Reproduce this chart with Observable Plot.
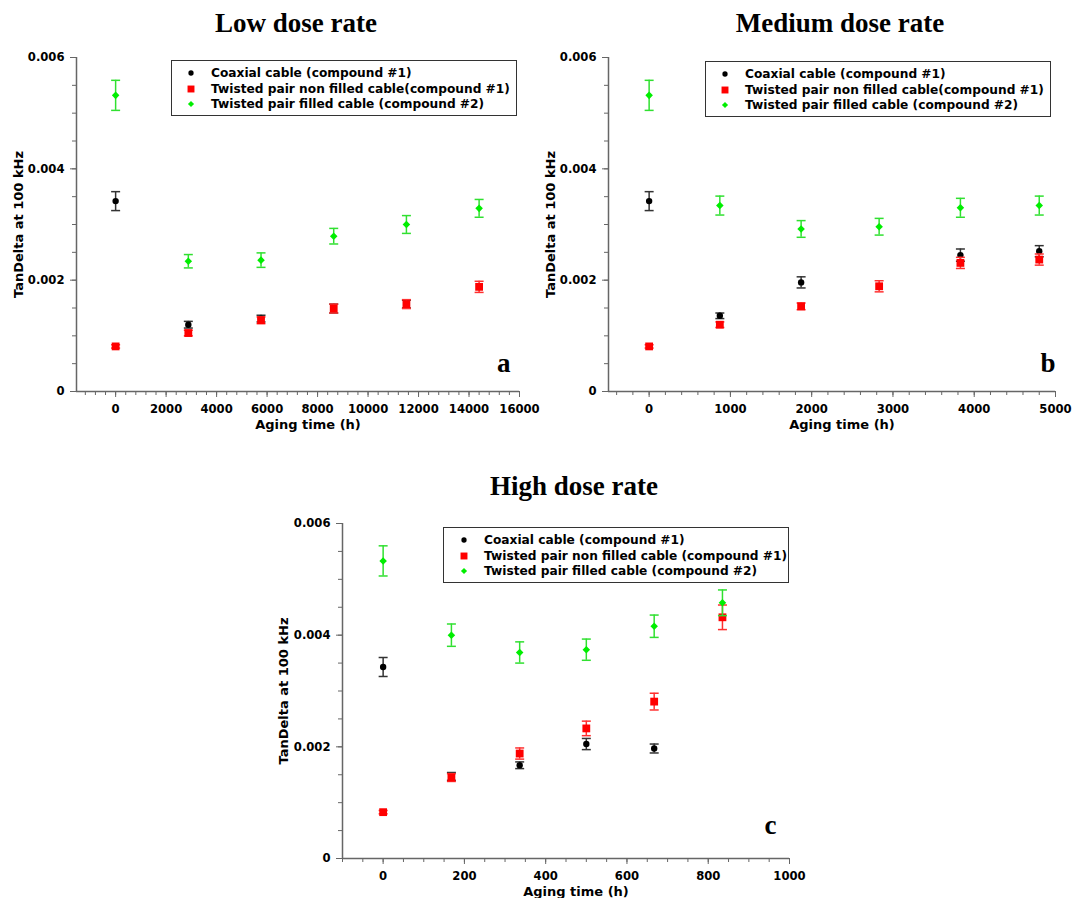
<!DOCTYPE html>
<html>
<head>
<meta charset="utf-8">
<script src="https://cdn.jsdelivr.net/npm/d3@7"></script>
<script src="https://cdn.jsdelivr.net/npm/@observablehq/plot@0.6"></script>
<style>
  html, body { margin: 0; padding: 0; background: #fff; }
  #root { position: relative; width: 1072px; height: 898px; overflow: hidden; background: #fff; }
  .panel { position: absolute; }
  .title { position: absolute; font-family: "Liberation Serif", "Times New Roman", serif; font-weight: bold; font-size: 27px; white-space: nowrap; transform: translateX(-50%); line-height: 1; }
  .legend { position: absolute; border: 1.5px solid #333; background: #fff; box-sizing: border-box; font-family: "DejaVu Sans", Verdana, sans-serif; font-weight: bold; font-size: 12.2px; color: #000; }
  .legend .row { position: absolute; left: 0; height: 14px; line-height: 14px; white-space: nowrap; }
  .legend svg { position: absolute; top: 0; }
  .legend span { position: absolute; top: 0; }
</style>
</head>
<body>
<div id="root"></div>
<script>
// ---------- data ----------
const seriesNames = ["Coaxial cable (compound #1)", "Twisted pair non filled cable(compound #1)", "Twisted pair filled cable (compound #2)"];
const seriesNamesC = ["Coaxial cable (compound #1)", "Twisted pair non filled cable (compound #1)", "Twisted pair filled cable (compound #2)"];
const panelTitles = ["Low dose rate", "Medium dose rate", "High dose rate"];
const panelLetters = ["a", "b", "c"];
const xLabel = "Aging time (h)";
const yLabel = "TanDelta at 100 kHz";
const yTicks = [0, 0.002, 0.004, 0.006];

// Low dose rate
const lowTime = [0, 2880, 5760, 8640, 11520, 14400];
const lowCoax = [0.00342, 0.00120, 0.00131, 0.00149, 0.00157, null];
const lowCoaxErr = [0.00017, 0.00006, 0.00006, 0.00008, 0.00007, null];
const lowNonFilled = [0.00081, 0.00105, 0.00128, 0.00149, 0.00157, 0.00188];
const lowNonFilledErr = [0.00003, 0.00005, 0.00006, 0.00008, 0.00008, 0.00010];
const lowFilled = [0.00532, 0.00234, 0.00236, 0.00279, 0.00300, 0.00329];
const lowFilledErr = [0.00027, 0.00012, 0.00013, 0.00014, 0.00016, 0.00016];
const lowXTicks = [0, 2000, 4000, 6000, 8000, 10000, 12000, 14000, 16000];

// Medium dose rate
const medTime = [0, 870, 1870, 2830, 3830, 4800];
const medCoax = [0.00342, 0.00136, 0.00196, null, 0.00245, 0.00252];
const medCoaxErr = [0.00017, 0.00005, 0.00010, null, 0.00011, 0.00010];
const medNonFilled = [0.00081, 0.00120, 0.00153, 0.00189, 0.00231, 0.00237];
const medNonFilledErr = [0.00003, 0.00005, 0.00006, 0.00010, 0.00010, 0.00010];
const medFilled = [0.00532, 0.00334, 0.00292, 0.00296, 0.00330, 0.00334];
const medFilledErr = [0.00027, 0.00017, 0.00015, 0.00015, 0.00017, 0.00017];
const medXTicks = [0, 1000, 2000, 3000, 4000, 5000];

// High dose rate
const highTime = [0, 168, 336, 500, 667, 835];
const highCoax = [0.00343, 0.00147, 0.00167, 0.00205, 0.00197, null];
const highCoaxErr = [0.00017, 0.00007, 0.00006, 0.00010, 0.00008, null];
const highNonFilled = [0.00083, 0.00145, 0.00188, 0.00233, 0.00281, 0.00432];
const highNonFilledErr = [0.00003, 0.00007, 0.00010, 0.00013, 0.00015, 0.00022];
const highFilled = [0.00533, 0.00400, 0.00369, 0.00374, 0.00416, 0.00458];
const highFilledErr = [0.00027, 0.00020, 0.00019, 0.00019, 0.00020, 0.00023];
const highXTicks = [0, 200, 400, 600, 800, 1000];

// ---------- styling ----------
const markerColors = ["#000000", "#ff0000", "#00ee00"];
const barColors = ["#333333", "#ff3030", "#30e030"];
const symbols = ["circle", "square", "diamond2"];
const radii = [3.2, 4.4, 3.4];
const axisColor = "#666";
const sans = "DejaVu Sans, Verdana, sans-serif";
const serif = "Liberation Serif, Times New Roman, serif";

const capSymbol = { draw(ctx) { ctx.moveTo(-4.5, 0); ctx.lineTo(4.5, 0); } };

function buildRows(time, lists) {
  const rows = [];
  lists.forEach(([vals, errs], s) => {
    time.forEach((t, i) => {
      if (vals[i] == null) return;
      rows.push({ t, v: vals[i], e: errs[i], s });
    });
  });
  return rows;
}

function makePanel(cfg) {
  const { rows, xDomain, xTicks, minorStep, width, height, m, letter, letterDx, letterDy } = cfg;
  const minor = d3.range(Math.ceil(xDomain[0] / minorStep) * minorStep, xDomain[1] + 1, minorStep);
  const yMinor = d3.range(0, 0.00601, 0.0005);
  const marks = [
    Plot.ruleY([0], { stroke: axisColor, strokeWidth: 1.5 }),
    Plot.ruleX([xDomain[0]], { stroke: axisColor, strokeWidth: 1.5 }),
    Plot.axisX({ ticks: minor, tickSize: 4, tickFormat: () => "", color: axisColor, label: null }),
    Plot.axisX({ ticks: xTicks, tickSize: 6, tickFormat: () => "", color: axisColor, label: null }),
    Plot.axisX({ ticks: xTicks, tickSize: 0, tickPadding: 13, color: "#000", label: null, fontSize: 11.6, fontWeight: "bold",
      tickFormat: d => String(d) }),
    Plot.axisY({ ticks: yMinor, tickSize: 4, tickFormat: () => "", color: axisColor, label: null }),
    Plot.axisY({ ticks: yTicks, tickSize: 6, tickFormat: () => "", color: axisColor, label: null }),
    Plot.axisY({ ticks: yTicks, tickSize: 0, tickPadding: 12, color: "#000", label: null, fontSize: 11.6, fontWeight: "bold",
      tickFormat: d => d === 0 ? "0" : d3.format(".3f")(d) }),
    Plot.text([yLabel], { frameAnchor: "left", textAnchor: "middle", dx: -cfg.yLabelDx, rotate: -90, fontSize: 13, fontWeight: "bold", fill: "#000" }),
    Plot.text([xLabel], { frameAnchor: "bottom", textAnchor: "middle", dy: 33, dx: 10, lineAnchor: "middle", fontSize: 13, fontWeight: "bold", fill: "#000" }),
    Plot.text([letter], { frameAnchor: "bottom-right", textAnchor: "end", lineAnchor: "bottom", dx: letterDx, dy: letterDy,
      fontFamily: serif, fontSize: 27, fontWeight: "bold", fill: "#000" })
  ];
  for (let s = 0; s < 3; s++) {
    const sr = rows.filter(r => r.s === s);
    marks.push(
      Plot.ruleX(sr, { x: "t", y1: r => r.v - r.e, y2: r => r.v + r.e, stroke: barColors[s], strokeWidth: 1.5 }),
      Plot.dot(sr, { x: "t", y: r => r.v + r.e, symbol: capSymbol, stroke: barColors[s], strokeWidth: 1.5, fill: "none" }),
      Plot.dot(sr, { x: "t", y: r => r.v - r.e, symbol: capSymbol, stroke: barColors[s], strokeWidth: 1.5, fill: "none" }),
      Plot.dot(sr, { x: "t", y: "v", symbol: symbols[s], r: radii[s], fill: markerColors[s], stroke: "none" })
    );
  }
  return Plot.plot({
    width, height,
    marginLeft: m[0], marginTop: m[1], marginRight: m[2], marginBottom: m[3],
    style: { fontFamily: sans, fontWeight: "bold", fontSize: "12px", background: "transparent", color: "#000", overflow: "visible" },
    x: { domain: xDomain, label: null },
    y: { domain: [0, 0.006], label: null },
    marks
  });
}

function legendBox(names, left, top, width, height, rowTops, markerX, textX) {
  const div = document.createElement("div");
  div.className = "legend";
  Object.assign(div.style, { left: left + "px", top: top + "px", width: width + "px", height: height + "px" });
  names.forEach((name, s) => {
    const row = document.createElement("div");
    row.className = "row";
    row.style.top = rowTops[s] + "px";
    row.style.width = width + "px";
    const ns = "http://www.w3.org/2000/svg";
    const svg = document.createElementNS(ns, "svg");
    svg.setAttribute("width", 14); svg.setAttribute("height", 14);
    svg.style.left = (markerX - 7) + "px";
    const path = document.createElementNS(ns, "path");
    const sym = [d3.symbolCircle, d3.symbolSquare, d3.symbolDiamond2][s];
    const sizes = [22, 48, 24];
    path.setAttribute("d", d3.symbol(sym, sizes[s])());
    path.setAttribute("transform", "translate(7,7)");
    path.setAttribute("fill", markerColors[s]);
    svg.appendChild(path);
    const span = document.createElement("span");
    span.textContent = name;
    span.style.left = textX + "px";
    row.appendChild(svg); row.appendChild(span);
    div.appendChild(row);
  });
  return div;
}

const root = document.getElementById("root");
function place(node, left, top) {
  const wrap = document.createElement("div");
  wrap.className = "panel";
  wrap.style.left = left + "px"; wrap.style.top = top + "px";
  wrap.appendChild(node);
  root.appendChild(wrap);
}
function title(text, cx, top) {
  const d = document.createElement("div");
  d.className = "title"; d.textContent = text;
  d.style.left = cx + "px"; d.style.top = top + "px";
  root.appendChild(d);
}

// Panel a
place(makePanel({
  rows: buildRows(lowTime, [[lowCoax, lowCoaxErr], [lowNonFilled, lowNonFilledErr], [lowFilled, lowFilledErr]]),
  xDomain: [-1550, 16000], xTicks: lowXTicks, minorStep: 400,
  width: 540, height: 400, m: [76, 17, 21, 49], letter: panelLetters[0], letterDx: -9, letterDy: -20, yLabelDx: 58
}), 0, 40);
// Panel b
place(makePanel({
  rows: buildRows(medTime, [[medCoax, medCoaxErr], [medNonFilled, medNonFilledErr], [medFilled, medFilledErr]]),
  xDomain: [-500, 5000], xTicks: medXTicks, minorStep: 200,
  width: 542, height: 400, m: [78, 17, 17, 49], letter: panelLetters[1], letterDx: 0, letterDy: -20, yLabelDx: 58
}), 530, 40);
// Panel c
place(makePanel({
  rows: buildRows(highTime, [[highCoax, highCoaxErr], [highNonFilled, highNonFilledErr], [highFilled, highFilledErr]]),
  xDomain: [-100, 1000], xTicks: highXTicks, minorStep: 50,
  width: 540, height: 398, m: [72, 23, 21, 40], letter: panelLetters[2], letterDx: -13, letterDy: -25, yLabelDx: 59
}), 270, 500);

title(panelTitles[0], 296, 10);
title(panelTitles[1], 840, 10);
title(panelTitles[2], 574, 473);

root.appendChild(legendBox(seriesNames, 171, 60, 346, 56, [5, 21, 36], 19, 39));
root.appendChild(legendBox(seriesNames, 705, 61, 346, 56, [5, 21, 36], 19, 39));
root.appendChild(legendBox(seriesNamesC, 443, 527, 346, 56, [5, 21, 36], 20, 40));
</script>
</body>
</html>
